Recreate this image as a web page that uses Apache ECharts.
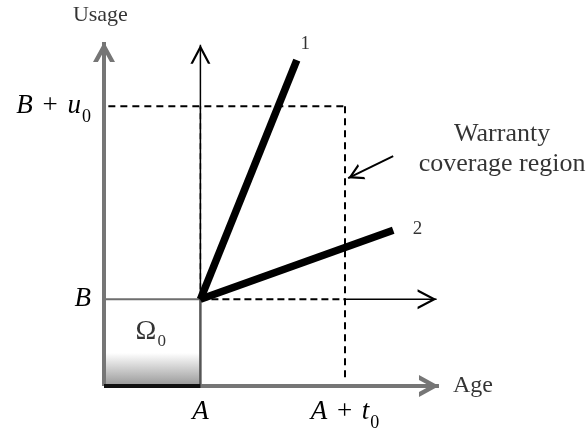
<!DOCTYPE html>
<html>
<head>
<meta charset="utf-8">
<script src="https://cdn.jsdelivr.net/npm/echarts@6/dist/echarts.min.js"></script>
<style>
  html, body {margin: 0; padding: 0; background: #fff;}
  #main {width: 586px; height: 432px;}
</style>
</head>
<body>
<div id="main"></div>
<script>
// warranty region values (arbitrary units on age / usage)
const A = 4, t0 = 6, B = 3.1, u0 = 6.9;
const xTicks = [A, A + t0];
const xTickText = ['{i|A}', '{i|A}{r| + }{i|t}{s|0}'];
const yTicks = [B, B + u0];
const yTickText = ['{i|B}', '{i|B}{r| + }{i|u}{s|0}'];

const ageAxis = [[0, 0], [13.9, 0]];
const usageAxis = [[0, 0], [0, 12.3]];
const innerUsage = [[A, B], [A, 12.2]];
const innerAge = [[A + t0, B], [13.8, B]];
const path1 = [[A, B], [8.0, 11.65]];
const path2 = [[A, B], [12.0, 5.57]];
const coverTop = [[0.18, B + u0], [A + t0, B + u0]];
const coverRight = [[A + t0, B + u0], [A + t0, 0.28]];
const coverBase = [[A, B], [A + t0, B]];
const coverLeft = [[A, B], [A, B + u0]];
const boxTop = [[0, B], [A, B]];
const boxRight = [[A, 0], [A, B]];
const boxBottom = [[0, 0], [A, 0]];
const shadeTop = 1.18;
const pointer = [[12.0, 8.22], [10.13, 7.43]];

const serif = '"Liberation Serif", "Times New Roman", serif';

function chevron(T){
    let a = T / 0.894, d = 2 * a;
    return `path://M50,0L100,100L${100 - a},100L50,${d}L${a},100L0,100Z`;
}

// open arrow head whose tip sits on the point; rot counter-clockwise from "up"
function head(pt, w, h, rot, T){
    let r = rot * Math.PI / 180;
    return {
        value: pt,
        symbol: chevron(T),
        symbolSize: [w, h],
        symbolRotate: rot,
        symbolOffset: [Math.sin(r) * h / 2, Math.cos(r) * h / 2]
    };
}

function seg(pts, color, width, type, z, tip){
    let data = pts.map(p => ({value: p, symbol: 'none'}));
    if (tip) data[data.length - 1] = tip;
    return {
        type: 'line',
        data: data,
        z: z,
        silent: true,
        animation: false,
        clip: false,
        symbol: 'none',
        lineStyle: {color: color, width: width, type: type, cap: 'butt'},
        itemStyle: {color: color, borderWidth: 0}
    };
}

const notes = [
    {text: 'Usage', at: [-0.15, 13.26], size: 22},
    {text: 'Age', at: [15.31, 0], size: 24},
    {text: '1', at: [8.35, 12.24], size: 19},
    {text: '2', at: [13.01, 5.61], size: 19},
    {text: 'Warranty', at: [16.52, 9.01], size: 26},
    {text: 'coverage region', at: [16.52, 7.93], size: 26},
    {text: '{o|Ω}{s|0}', at: [1.94, 1.96], size: 28}
];

const tickRich = {
    i: {fontFamily: serif, fontStyle: 'italic', fontSize: 27, lineHeight: 40, color: '#000'},
    r: {fontFamily: serif, fontSize: 27, lineHeight: 40, color: '#000', padding: [0, 3, 0, 3]},
    s: {fontFamily: serif, fontSize: 18, color: '#000', padding: [22, 0, 0, 1], verticalAlign: 'bottom'}
};

function pick(ticks, texts){
    return function(v){
        for (let k = 0; k < ticks.length; k++){
            if (Math.abs(ticks[k] - v) < 1e-6) return texts[k];
        }
        return '';
    };
}

const gray = '#767676';
const shade = new echarts.graphic.LinearGradient(0, 0, 0, 1, [
    {offset: 0, color: '#ffffff'},
    {offset: 1, color: '#979797'}
]);

let boxSeries = seg(boxTop, '#6e6e6e', 2, 'solid', 3);
boxSeries.markArea = {
    silent: true,
    itemStyle: {color: shade},
    label: {show: false},
    data: [[{coord: [0, 0]}, {coord: [A, shadeTop]}]]
};

let option = {
    animation: false,
    backgroundColor: '#fff',
    grid: {left: 104, right: 0, top: 0, bottom: 46, containLabel: false, outerBoundsMode: 'none'},
    xAxis: {
        type: 'value', min: 0, max: 20,
        axisLine: {show: false},
        axisTick: {show: false},
        splitLine: {show: false},
        axisLabel: {customValues: xTicks, formatter: pick(xTicks, xTickText), margin: 6, rich: tickRich}
    },
    yAxis: {
        type: 'value', min: 0, max: 13.8,
        axisLine: {show: false},
        axisTick: {show: false},
        splitLine: {show: false},
        axisLabel: {customValues: yTicks, formatter: pick(yTicks, yTickText), margin: 13, rich: tickRich}
    },
    series: [
        boxSeries,
        seg(boxRight, '#555', 2.5, 'solid', 3),
        seg(usageAxis, gray, 4, 'solid', 4, head(usageAxis[1], 22, 20, 0, 20)),
        seg(ageAxis, gray, 4, 'solid', 4, head(ageAxis[1], 22, 20, -90, 20)),
        seg(boxBottom, '#111', 4, 'solid', 5),
        seg(innerUsage, '#000', 1.5, 'solid', 6, head(innerUsage[1], 20, 19, 0, 11)),
        seg(innerAge, '#000', 1.5, 'solid', 6, head(innerAge[1], 20, 19, -90, 11)),
        seg(coverLeft, '#000', 1.5, [6, 4], 6),
        seg(coverBase, '#000', 2, [7, 4], 6),
        seg(coverTop, '#000', 2, [7, 5], 6),
        seg(coverRight, '#000', 2, [7, 5], 6),
        seg(path1, '#000', 7.5, 'solid', 8),
        seg(path2, '#000', 7.5, 'solid', 8),
        seg(pointer, '#000', 2, 'solid', 8, head(pointer[1], 17, 15, 116, 13)),
        {
            type: 'scatter',
            silent: true,
            animation: false,
            clip: false,
            z: 10,
            symbolSize: 1,
            itemStyle: {color: 'rgba(0,0,0,0)'},
            data: notes.map(n => ({
                value: n.at,
                label: {
                    show: true,
                    position: 'inside',
                    formatter: n.text,
                    fontFamily: serif,
                    fontSize: n.size,
                    color: '#000',
                    textBorderWidth: 0,
                    rich: {
                        o: {fontFamily: serif, fontSize: 28, lineHeight: 38, color: '#000'},
                        s: {fontFamily: serif, fontSize: 17, color: '#000', padding: [20, 0, 0, 1], verticalAlign: 'bottom'}
                    }
                }
            }))
        }
    ]
};

let chart = echarts.init(document.getElementById('main'), null, {renderer: 'canvas'});
chart.setOption(option);
</script>
</body>
</html>
